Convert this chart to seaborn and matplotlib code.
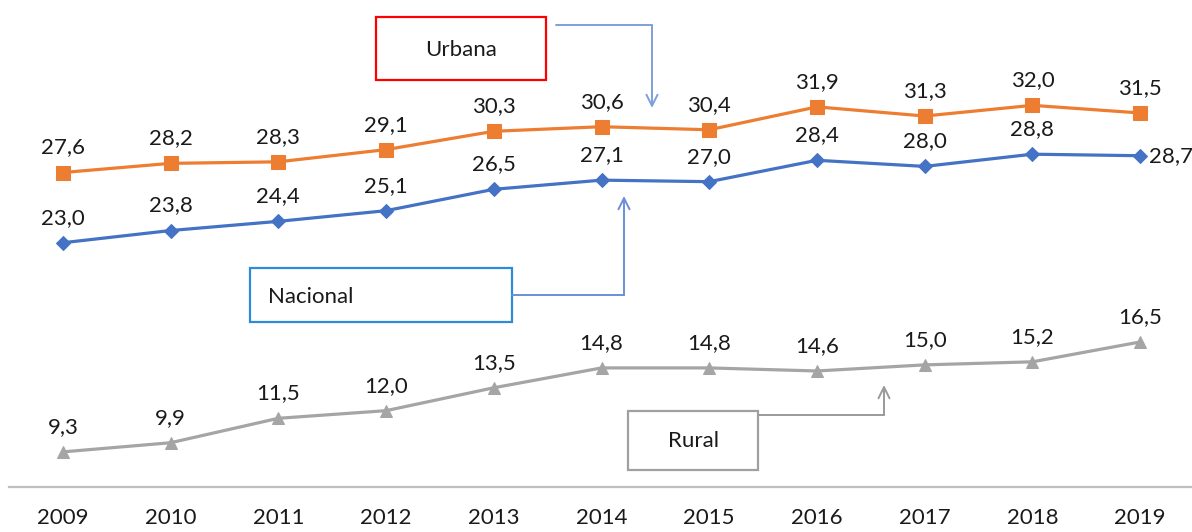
import matplotlib
matplotlib.use("Agg")
import matplotlib.pyplot as plt
import seaborn as sns
import pandas as pd
from matplotlib.patches import Rectangle
from matplotlib.lines import Line2D

# data
years = [2009, 2010, 2011, 2012, 2013, 2014, 2015, 2016, 2017, 2018, 2019]
urbana = [27.6, 28.2, 28.3, 29.1, 30.3, 30.6, 30.4, 31.9, 31.3, 32.0, 31.5]
nacional = [23.0, 23.8, 24.4, 25.1, 26.5, 27.1, 27.0, 28.4, 28.0, 28.8, 28.7]
rural = [9.3, 9.9, 11.5, 12.0, 13.5, 14.8, 14.8, 14.6, 15.0, 15.2, 16.5]

W, H = 1192, 532
sns.set_style("white")
plt.rcParams['font.family'] = ['Lato', 'DejaVu Sans']
TXT = "#1a1a1a"
FS = 16

fig = plt.figure(figsize=(W / 100, H / 100), dpi=100)
ax = fig.add_axes([9 / W, (H - 487) / H, 1185 / W, 487 / H])

series = [
    ("Urbana", urbana, "#ED7D31", "s", 9.5),
    ("Nacional", nacional, "#4472C4", "D", 7),
    ("Rural", rural, "#A5A5A5", "^", 8.5),
]
for name, vals, col, mk, ms in series:
    df = pd.DataFrame({"year": years, "val": vals})
    sns.lineplot(data=df, x="year", y="val", ax=ax, color=col, marker=mk,
                 markersize=ms, markeredgecolor=col, linewidth=2.3)
    for i, (x, v) in enumerate(zip(years, vals)):
        lab = f"{v:.1f}".replace(".", ",")
        if name == "Nacional" and i == len(vals) - 1:
            # last national label sits to the right of the point
            ax.annotate(lab, (x, v), xytext=(9, 0), textcoords="offset pixels",
                        ha="left", va="center", fontsize=FS, color=TXT)
        else:
            ax.annotate(lab, (x, v), xytext=(0, 25), textcoords="offset pixels",
                        ha="center", va="center", fontsize=FS, color=TXT)

ax.set_xlim(2008.5, 2019.5)
ax.set_ylim(7.0, 38.9)
ax.set_xticks(years)
ax.set_xticklabels([str(y) for y in years], fontsize=FS, color=TXT)
ax.set_xticks([y + 0.5 for y in years[:-1]], minor=True)
ax.tick_params(axis="x", which="major", length=0, pad=15)
ax.tick_params(axis="x", which="minor", length=7, width=1.2, color="#BFBFBF", direction="out")
ax.set_yticks([])
ax.set_xlabel("")
ax.set_ylabel("")
for s in ["top", "left", "right"]:
    ax.spines[s].set_visible(False)
ax.spines["bottom"].set_color("#BFBFBF")
ax.spines["bottom"].set_linewidth(1.6)


def fx(px):
    return px / W


def fy(py):
    return 1 - py / H


def box(x0, y0, x1, y1, ec, text, tx, ty, ha="center"):
    fig.add_artist(Rectangle((fx(x0), fy(y1)), fx(x1 - x0), (y1 - y0) / H,
                             transform=fig.transFigure, fill=True, facecolor="white",
                             edgecolor=ec, linewidth=1.6))
    fig.text(fx(tx), fy(ty), text, ha=ha, va="center", fontsize=FS, color=TXT)


def connector(pts, col):
    xs = [fx(p[0]) for p in pts[:-1]]
    ys = [fy(p[1]) for p in pts[:-1]]
    fig.add_artist(Line2D(xs, ys, transform=fig.transFigure, color=col, linewidth=1.4))
    ax.annotate("", xy=(fx(pts[-1][0]), fy(pts[-1][1])), xycoords="figure fraction",
                xytext=(fx(pts[-2][0]), fy(pts[-2][1])), textcoords="figure fraction",
                arrowprops=dict(arrowstyle="->,head_length=0.8,head_width=0.4",
                                color=col, lw=1.4, shrinkA=0, shrinkB=0))


box(376, 17, 546, 80, "#FF0000", "Urbana", 461, 50)
connector([(556, 25), (652, 25), (652, 108)], "#7F9FD8")

box(250, 268, 512, 322, "#2E8BD6", "Nacional", 268, 297, ha="left")
connector([(512, 295), (624, 295), (624, 196)], "#6A8FD6")

box(628, 411, 758, 470, "#A0A0A0", "Rural", 693, 441)
connector([(758, 415), (884, 415), (884, 385)], "#9A9A9A")

fig.savefig("out.png", dpi=100)
